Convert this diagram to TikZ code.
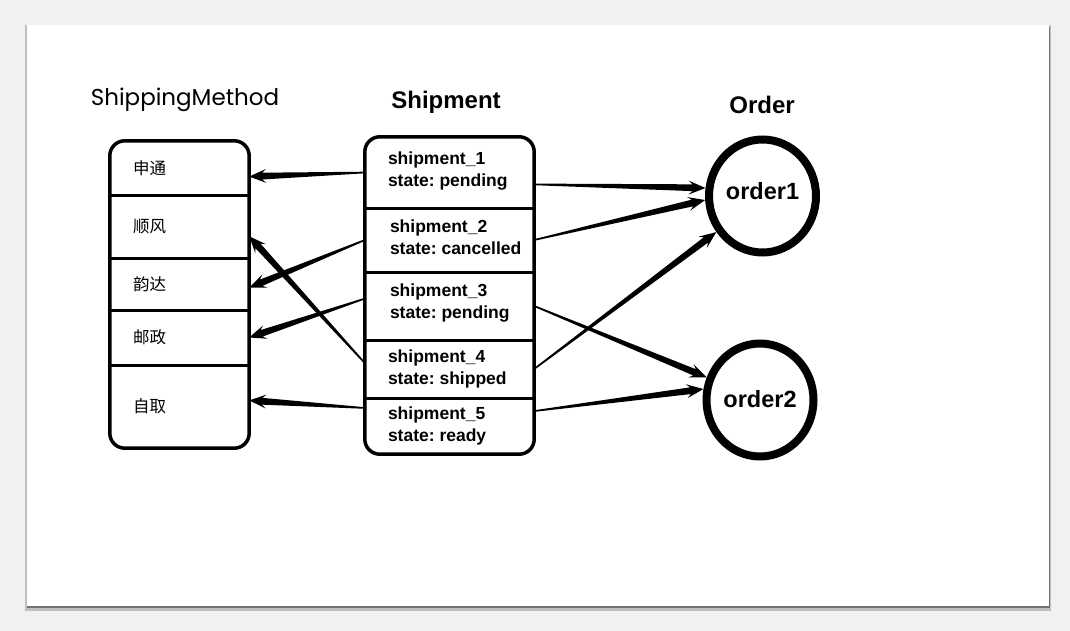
\documentclass[tikz,border=0pt]{standalone}
\usepackage{fontspec}
\setmainfont{Liberation Sans}
\newfontfamily\cjk{Noto Sans CJK SC}
\newfontfamily\thinfont{Poppins}
\usetikzlibrary{positioning,shapes.geometric,calc}
\definecolor{slidebg}{RGB}{241,241,241}
\frenchspacing
% tapered arrow, thin at the start and thick at the tip
\newcommand{\taper}[2]{%
  \coordinate (tipH) at ($(#2)!13pt!(#1)$);
  \coordinate (tipK) at ($(#2)!17pt!(#1)$);
  \fill ($(#1)!0.8pt!90:(#2)$) -- ($(tipH)!3.4pt!-90:(#1)$) -- ($(tipK)!7pt!-90:(#1)$) -- (#2)
     -- ($(tipK)!7pt!90:(#1)$) -- ($(tipH)!3.4pt!90:(#1)$) -- ($(#1)!0.8pt!-90:(#2)$) -- cycle;}

\begin{document}
\begin{tikzpicture}[x=1pt,y=-1pt,
    mrow/.style={minimum width=139pt,inner xsep=23pt,inner ysep=0pt,text width=93pt,align=left,
      font=\cjk\fontsize{16.5}{20}\selectfont},
    srow/.style={minimum width=169pt,inner sep=0pt},
    slabel/.style={align=left,inner sep=0pt,font=\bfseries\fontsize{17.5}{22}\selectfont},
    title/.style={font=\bfseries\fontsize{24}{28}\selectfont},
    box/.style={line width=3.5pt,rounded corners=15pt},
    divider/.style={line width=3pt},
    order/.style={ellipse,draw,line width=8pt,minimum width=107pt,minimum height=113pt,inner sep=0pt}]
  % slide
  \useasboundingbox (0,0) rectangle (1070,631);
  \fill[slidebg] (0,0) rectangle (1070,631);
  \fill[black!25] (25,25) rectangle (1051,611);
  \fill[black!55] (27,27) rectangle (1050,608);
  \fill[white] (27,25) rectangle (1049,606);

  % titles
  \node[font=\thinfont\fontsize{23}{27}\selectfont] (tmethod) at (185,100) {ShippingMethod};
  \node[title] (tship) at (446,102) {Shipment};
  \node[title] (torder) at (762,105) {Order};

  % ShippingMethod
  \node[mrow,minimum height=54pt] (m1) at (179.5,168) {申通};
  \node[mrow,minimum height=63pt] (m2) at (179.5,226.5) {顺风};
  \node[mrow,minimum height=52pt] (m3) at (179.5,284) {韵达};
  \node[mrow,minimum height=55pt] (m4) at (179.5,337.5) {邮政};
  \node[mrow,minimum height=83pt] (m5) at (179.5,406.5) {自取};
  \draw[box] (m1.north west) rectangle (m5.south east);
  \draw[divider] (m1.south west) -- (m1.south east);
  \draw[divider] (m2.south west) -- (m2.south east);
  \draw[divider] (m3.south west) -- (m3.south east);
  \draw[divider] (m4.south west) -- (m4.south east);

  % Shipment
  \node[srow,minimum height=71pt] (s1) at (449.5,172.5) {};
  \node[srow,minimum height=64pt] (s2) at (449.5,240) {};
  \node[srow,minimum height=68pt] (s3) at (449.5,306) {};
  \node[srow,minimum height=58pt] (s4) at (449.5,369) {};
  \node[srow,minimum height=56pt] (s5) at (449.5,426) {};
  \draw[box] (s1.north west) rectangle (s5.south east);
  \draw[divider] (s1.south west) -- (s1.south east);
  \draw[divider] (s2.south west) -- (s2.south east);
  \draw[divider] (s3.south west) -- (s3.south east);
  \draw[divider] (s4.south west) -- (s4.south east);
  \node[slabel,right=23pt of s1.west,yshift=1pt] (l1) {shipment\_1\\state: pending};
  \node[slabel,right=25pt of s2.west,yshift=3pt] (l2) {shipment\_2\\state: cancelled};
  \node[slabel,right=25pt of s3.west,yshift=3pt] (l3) {shipment\_3\\state: pending};
  \node[slabel,right=23pt of s4.west] (l4) {shipment\_4\\state: shipped};
  \node[slabel,right=23pt of s5.west] (l5) {shipment\_5\\state: ready};

  % Order
  \node[order,label={[font=\bfseries\fontsize{23.5}{27}\selectfont,yshift=5pt]center:order1}] (o1) at (762.5,196) {};
  \node[order,label={[font=\bfseries\fontsize{23.5}{27}\selectfont,yshift=1pt]center:order2}] (o2) at (760,400) {};

  % shipment -> shipping method
  \taper{s1.west}{m1.-7}
  \taper{s2.west}{m3.-3}
  \taper{s3.175}{m4.east}
  \taper{s4.176}{m2.-8}
  \taper{s5.168}{m5.5}
  % shipment -> order
  \taper{s1.-8}{o1.172}
  \taper{s2.east}{o1.184}
  \taper{s3.east}{o2.157}
  \taper{s4.east}{o1.218}
  \taper{s5.10}{o2.169}
\end{tikzpicture}
\end{document}
